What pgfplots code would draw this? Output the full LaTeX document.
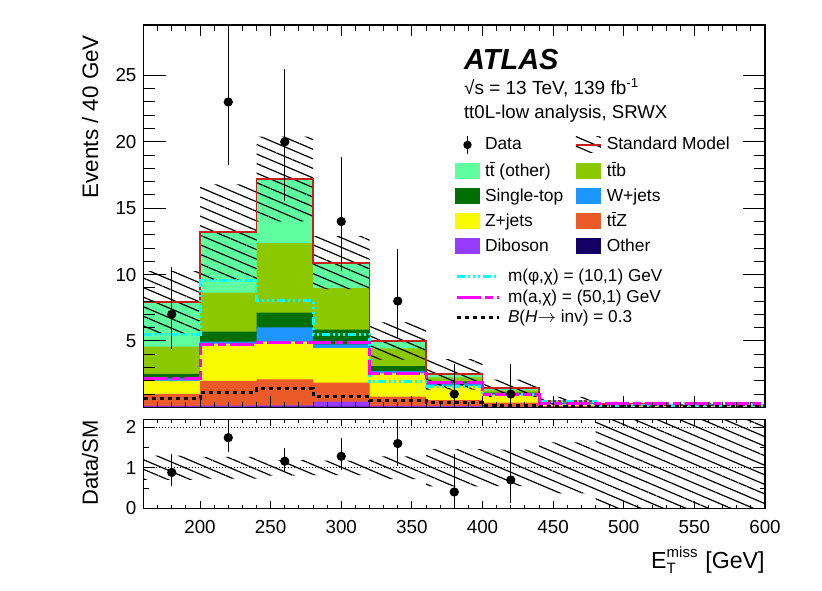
\documentclass[border=0pt]{standalone}
\usepackage{pgfplots}
\pgfplotsset{compat=1.18}
\usepackage{fontspec}
\setmainfont{Liberation Sans}
\usetikzlibrary{patterns.meta}

\definecolor{cttother}{RGB}{95,255,160}
\definecolor{cttb}{RGB}{140,200,0}
\definecolor{cst}{RGB}{0,110,0}
\definecolor{cw}{RGB}{30,150,255}
\definecolor{cz}{RGB}{250,250,0}
\definecolor{cttz}{RGB}{235,90,40}
\definecolor{cdib}{RGB}{150,60,255}
\definecolor{cother}{RGB}{20,0,100}
\definecolor{smred}{RGB}{200,30,30}
\definecolor{sigcyan}{RGB}{0,255,255}
\definecolor{sigmag}{RGB}{255,0,255}

\newcommand{\tb}{$\overline{\mbox{t}}$}

\tikzset{
  hatch/.style={pattern={Lines[angle=-23,distance=4.4pt,line width=0.6pt]}, pattern color=black},
}
\pgfplotsset{
  stk/.style={const plot, draw=none, fill=#1, forget plot},
  boxleg/.style={legend image code/.code={\fill[draw=none,#1] (0pt,-4pt) rectangle (12.5pt,4pt);}},
  sigleg/.style={legend image code/.code={\draw[##1] (0pt,0pt) -- (21pt,0pt);}},
  cyanline/.style={sigcyan, line width=1.5pt, dash pattern=on 4pt off 1.5pt on 1pt off 1.5pt on 1pt off 1.5pt on 1pt off 1.5pt},
  magline/.style={sigmag, line width=1.5pt, dash pattern=on 12pt off 2pt on 4pt off 2pt},
  hinvline/.style={black, line width=1.5pt, dash pattern=on 2pt off 2pt},
  frame/.style={axis line style={line width=0.55pt}, tick style={black, line width=0.5pt},
     tick label style={font=\fontsize{9.4}{11}\selectfont}, /pgf/number format/assume math mode=true},
}

\begin{document}
\begin{tikzpicture}
\path[use as bounding box] (0pt,0pt) rectangle (411pt,295pt);

% ================= main panel (stack, y ticks) =================
\begin{axis}[frame,
  at={(71.75pt,91.35pt)}, anchor=south west,
  scale only axis, width=310.75pt, height=191.15pt,
  xmin=160, xmax=600, ymin=0, ymax=28.8,
  xtick=\empty,
  ytick={0,5,10,15,20,25}, yticklabels={,5,10,15,20,25},
  minor y tick num=4,
  major tick length=11pt, minor tick length=5.5pt,
  axis on top,
  legend columns=2,
  legend cell align=left,
  legend style={draw=none, fill=none, at={(rel axis cs:0.5012,0.7115)}, anchor=north west,
    inner sep=0pt, outer sep=0pt, column sep=0pt, row sep=4.3pt,
    font=\fontsize{8.7}{10}\selectfont,
    nodes={inner sep=0pt, text height=6.5pt, text depth=1.7pt}},
]
% legend entries
\addlegendimage{legend image code/.code={\path[draw=none,fill=none] (0pt,-4pt) rectangle (12.5pt,4pt);
   \draw[black, line width=0.6pt] (6.25pt,-4.5pt) -- (6.25pt,4.5pt);
   \fill[black,draw=none] (6.25pt,0pt) circle (2.1pt);}}
\addlegendentry{\hspace{2.5pt}\makebox[45pt][l]{Data}}
\addlegendimage{legend image code/.code={\fill[draw=none,hatch] (0pt,-4pt) rectangle (12.5pt,4pt);
   \draw[smred, line width=0.9pt] (0pt,0pt) -- (12.5pt,0pt);}}
\addlegendentry{\hspace{2.5pt}Standard Model}
\addlegendimage{boxleg=cttother}\addlegendentry{\hspace{2.5pt}\makebox[45pt][l]{t\tb{} (other)}}
\addlegendimage{boxleg=cttb}\addlegendentry{\hspace{2.5pt}t\tb b}
\addlegendimage{boxleg=cst}\addlegendentry{\hspace{2.5pt}\makebox[45pt][l]{Single-top}}
\addlegendimage{boxleg=cw}\addlegendentry{\hspace{2.5pt}W+jets}
\addlegendimage{boxleg=cz}\addlegendentry{\hspace{2.5pt}\makebox[45pt][l]{Z+jets}}
\addlegendimage{boxleg=cttz}\addlegendentry{\hspace{2.5pt}t\tb Z}
\addlegendimage{boxleg=cdib}\addlegendentry{\hspace{2.5pt}\makebox[45pt][l]{Diboson}}
\addlegendimage{boxleg=cother}\addlegendentry{\hspace{2.5pt}Other}

% cumulative stack (tops), drawn from the top layer down
\addplot[stk=cttother] coordinates {(160,7.91)(200,13.19)(240,17.2)(280,10.9)(320,5.0)(360,2.48)(400,1.43)(440,0.48)(480,0.22)(520,0.18)(560,0.2)(600,0.2)} \closedcycle;
\addplot[stk=cttb] coordinates {(160,4.57)(200,8.64)(240,12.36)(280,8.97)(320,4.44)(360,2.25)(400,1.28)(440,0.40)(480,0.18)(520,0.15)(560,0.17)(600,0.17)} \closedcycle;
\addplot[stk=cst] coordinates {(160,2.51)(200,5.70)(240,7.13)(280,5.85)(320,3.11)(360,1.95)(400,1.10)(440,0.33)(480,0.15)(520,0.13)(560,0.14)(600,0.14)} \closedcycle;
\addplot[stk=cw] coordinates {(160,2.18)(200,4.94)(240,6.03)(280,4.75)(320,2.72)(360,1.80)(400,1.02)(440,0.30)(480,0.13)(520,0.11)(560,0.12)(600,0.12)} \closedcycle;
\addplot[stk=cz] coordinates {(160,2.00)(200,4.77)(240,4.95)(280,4.45)(320,2.55)(360,1.60)(400,0.92)(440,0.22)(480,0.10)(520,0.08)(560,0.09)(600,0.09)} \closedcycle;
\addplot[stk=cttz] coordinates {(160,1.00)(200,2.00)(240,2.10)(280,1.85)(320,0.80)(360,0.55)(400,0.35)(440,0.10)(480,0.05)(520,0.04)(560,0.05)(600,0.05)} \closedcycle;
\addplot[stk=cdib] coordinates {(160,0.10)(200,0.12)(240,0.15)(280,0.42)(320,0.10)(360,0.08)(400,0.05)(440,0.03)(480,0.02)(520,0.02)(560,0.02)(600,0.02)} \closedcycle;
\addplot[stk=cother] coordinates {(160,0.03)(200,0.03)(240,0.05)(280,0.05)(320,0.03)(360,0.02)(400,0.02)(440,0.01)(480,0.01)(520,0.01)(560,0.01)(600,0.01)} \closedcycle;

% SM uncertainty band
\addplot[draw=none, hatch, forget plot] coordinates {
 (160,10.26)(200,10.26)(200,16.8)(240,16.8)(240,20.4)(280,20.4)(280,12.9)(320,12.9)(320,6.4)(360,6.4)(360,3.63)(400,3.63)(400,2.08)(440,2.08)(440,0.78)(480,0.78)(480,0.4)(520,0.4)(520,0.35)(560,0.35)(560,0.38)(600,0.38)
 (600,0.02)(480,0.02)(480,0.18)(440,0.18)(440,0.78)(400,0.78)(400,1.33)(360,1.33)(360,3.6)(320,3.6)(320,8.9)(280,8.9)(280,14.0)(240,14.0)(240,9.6)(200,9.6)(200,5.56)(160,5.56)} -- cycle;

% SM total
\addplot[const plot, smred, line width=0.9pt, forget plot] coordinates {(160,7.91)(200,13.19)(240,17.2)(280,10.9)(320,5.0)(360,2.48)(400,1.43)(440,0.48)(480,0.22)(520,0.18)(560,0.2)(600,0.2)};

% signals
\addplot[const plot, cyanline, forget plot] coordinates {(160,5.45)(200,9.54)(240,8.03)(280,5.52)(320,1.93)(360,1.60)(400,0.95)(440,0.40)(480,0.15)(520,0.15)(560,0.15)(600,0.15)};
\addplot[const plot, magline, forget plot] coordinates {(160,2.15)(200,4.70)(240,4.90)(280,4.87)(320,2.56)(360,1.85)(400,1.00)(440,0.32)(480,0.25)(520,0.25)(560,0.25)(600,0.25)};
\addplot[const plot, hinvline, forget plot] coordinates {(160,0.65)(200,1.12)(240,1.43)(280,0.80)(320,0.50)(360,0.35)(400,0.15)(440,0.05)(480,0.03)(520,0.03)(560,0.03)(600,0.03)};

% data
\addplot[only marks, mark=*, mark size=2.1pt, black, forget plot,
  error bars/.cd, y dir=both, y explicit, error mark=none,
  error bar style={line width=0.6pt, black}] coordinates {
 (180,7) += (0,3.58) -= (0,2.58)
 (220,23) += (0,5.86) -= (0,4.77)
 (260,20) += (0,5.52) -= (0,4.44)
 (300,14) += (0,4.83) -= (0,3.70)
 (340,8) += (0,3.94) -= (0,2.76)
 (380,1) += (0,2.30) -= (0,0.83)
 (420,1) += (0,2.30) -= (0,0.83)};
\end{axis}

% ================= main panel x ticks + signal legend =================
\begin{axis}[frame,
  at={(71.75pt,91.35pt)}, anchor=south west,
  scale only axis, width=310.75pt, height=191.15pt,
  xmin=160, xmax=600, ymin=0, ymax=28.8,
  ytick=\empty,
  xtick={200,250,...,600}, minor xtick={160,170,...,600}, xticklabels=\empty,
  major tick length=5.5pt, minor tick length=2.75pt,
  legend cell align=left,
  legend style={draw=none, fill=none, at={(rel axis cs:0.5012,0.3623)}, anchor=north west,
    inner sep=0pt, outer sep=0pt, column sep=0pt, row sep=2pt,
    font=\fontsize{8.6}{10}\selectfont,
    nodes={inner sep=0pt, text height=6.5pt, text depth=1.7pt}},
]
\addlegendimage{cyanline, sigleg}
\addlegendentry{\hspace{4pt}m(φ,χ) = (10,1) GeV}
\addlegendimage{magline, sigleg}
\addlegendentry{\hspace{4pt}m(a,χ) = (50,1) GeV}
\addlegendimage{hinvline, sigleg}
\addlegendentry{\hspace{4pt}\textit{B}(\textit{H}$\rightarrow$ inv) = 0.3}
\end{axis}

% ================= ratio panel =================
\begin{axis}[frame,
  at={(71.75pt,40.85pt)}, anchor=south west,
  scale only axis, width=310.75pt, height=44.55pt,
  xmin=160, xmax=600, ymin=0, ymax=2.2,
  xtick=\empty,
  ytick={0,1,2}, minor ytick={0.5,1.5},
  major tick length=5.5pt, minor tick length=2.75pt,
  axis on top,
]
\addplot[draw=none, hatch, forget plot] coordinates {
 (160,1.30)(200,1.30)(200,1.27)(240,1.27)(240,1.19)(280,1.19)(280,1.18)(320,1.18)(320,1.28)(360,1.28)(360,1.46)(400,1.46)(400,1.45)(440,1.45)(440,1.63)(480,1.63)(480,2.3)(600,2.3)
 (600,-0.1)(480,-0.1)(480,0.37)(440,0.37)(440,0.55)(400,0.55)(400,0.54)(360,0.54)(360,0.72)(320,0.72)(320,0.82)(280,0.82)(280,0.81)(240,0.81)(240,0.73)(200,0.73)(200,0.70)(160,0.70)} -- cycle;
\addplot[black, densely dotted, line width=0.5pt, forget plot] coordinates {(160,1)(600,1)};
\addplot[black, densely dotted, line width=0.5pt, forget plot] coordinates {(160,2)(600,2)};
\addplot[only marks, mark=*, mark size=2.1pt, black, forget plot,
  error bars/.cd, y dir=both, y explicit, error mark=none,
  error bar style={line width=0.6pt, black}] coordinates {
 (180,0.886) += (0,0.453) -= (0,0.326)
 (220,1.744) += (0,0.444) -= (0,0.362)
 (260,1.163) += (0,0.321) -= (0,0.258)
 (300,1.284) += (0,0.443) -= (0,0.339)
 (340,1.600) += (0,0.788) -= (0,0.552)
 (380,0.403) += (0,0.927) -= (0,0.335)
 (420,0.699) += (0,1.608) -= (0,0.580)};
\end{axis}

% ================= ratio x ticks and labels =================
\begin{axis}[frame,
  at={(71.75pt,40.85pt)}, anchor=south west,
  scale only axis, width=310.75pt, height=44.55pt,
  xmin=160, xmax=600, ymin=0, ymax=2.2,
  ytick=\empty,
  xtick={200,250,...,600}, minor xtick={160,170,...,600},
  major tick length=3.5pt, minor tick length=1.75pt,
  xticklabel style={yshift=-2.3pt},
]
\end{axis}

% ================= texts =================
\node[anchor=base west, font=\fontsize{14.5}{16}\selectfont\bfseries\itshape] at (228.5pt,260.3pt) {ATLAS};
\node[anchor=base west, font=\fontsize{9.5}{11}\selectfont] at (228.5pt,247.5pt) {√s = 13 TeV, 139 fb\textsuperscript{-1}};
\node[anchor=base west, font=\fontsize{9.3}{11}\selectfont] at (228.5pt,235.8pt) {tt0L-low analysis, SRWX};

\node[rotate=90, anchor=east, font=\fontsize{11.2}{13}\selectfont] at (45pt,281pt) {Events / 40 GeV};
\node[rotate=90, font=\fontsize{11}{13}\selectfont] at (45pt,63.5pt) {Data/SM};
\node[anchor=base east, inner sep=0pt, font=\fontsize{11.6}{14}\selectfont] at (382.5pt,11pt)
  {E\rlap{\raisebox{5.2pt}{\fontsize{7.5}{9}\selectfont miss}}\raisebox{-2.8pt}{\fontsize{7.5}{9}\selectfont T}\hspace{11.5pt} [GeV]};
\end{tikzpicture}
\end{document}
